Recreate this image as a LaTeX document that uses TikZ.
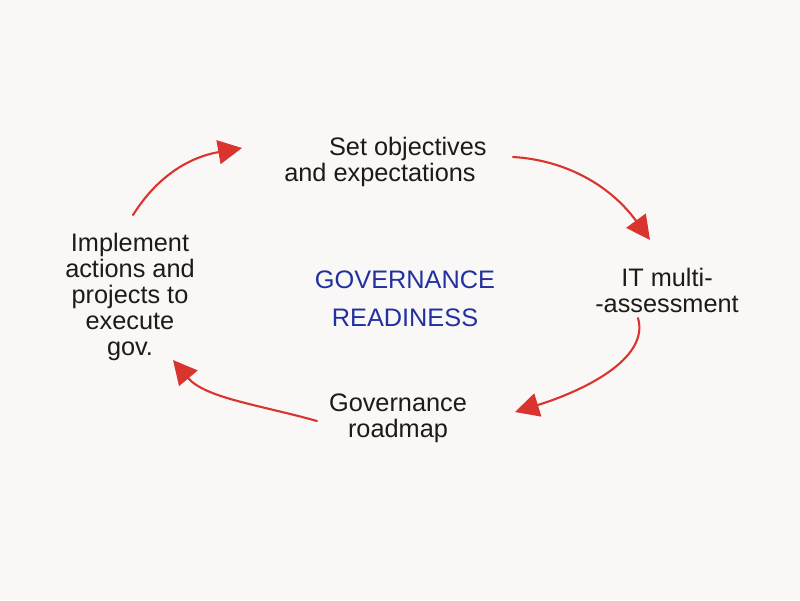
\documentclass[tikz,border=0pt]{standalone}
\usepackage{fontspec}
\setmainfont{Liberation Sans}
\usetikzlibrary{arrows.meta}
\definecolor{paper}{RGB}{249,248,246}
\definecolor{pen}{RGB}{30,26,24}
\definecolor{redpen}{RGB}{218,52,46}
\definecolor{bluepen}{RGB}{34,48,160}
\tikzset{
  lbl/.style={align=center, text=pen, font=\fontsize{18}{18.5}\selectfont, inner sep=0pt},
  ttl/.style={align=center, text=bluepen, font=\fontsize{18}{27}\selectfont, inner sep=0pt},
  cyc/.style={draw=redpen, line width=1.5pt, line cap=round, -{Triangle[length=17pt,width=17pt]}}
}
\begin{document}
\begin{tikzpicture}[x=0.025cm, y=-0.025cm]
\fill[paper] (0,0) rectangle (800,600);
\useasboundingbox (0,0) rectangle (800,600);
\node[lbl] (obj) at (380,162) {\hspace*{2.2em}Set objectives\\and expectations};
\node[lbl] (impl) at (130,297) {Implement\\actions and\\projects to\\execute\\gov.};
\node[lbl] (it) at (667,290) {IT multi-\\-assessment};
\node[lbl] (road) at (398,418) {Governance\\roadmap};
\node[ttl] (gr) at (405,299) {GOVERNANCE\\READINESS};
\coordinate (a1s) at (133,215);
\coordinate (a1e) at (242,148);
\coordinate (a2s) at (513,157);
\coordinate (a2e) at (650,240);
\coordinate (a3s) at (638,318);
\coordinate (a3e) at (515,412);
\coordinate (a4s) at (317,421);
\coordinate (a4e) at (173,360);
\draw[cyc] (a1s) .. controls (155,180) and (185,158) .. (a1e);
\draw[cyc] (a2s) .. controls (565,160) and (610,185) .. (a2e);
\draw[cyc] (a3s) .. controls (650,360) and (580,392) .. (a3e);
\draw[cyc] (a4s) .. controls (260,405) and (205,398) .. (a4e);
\end{tikzpicture}
\end{document}
